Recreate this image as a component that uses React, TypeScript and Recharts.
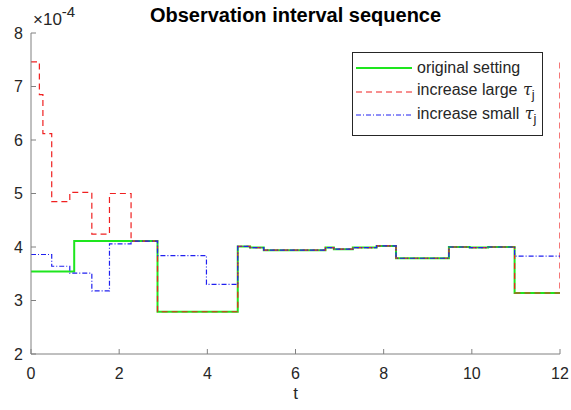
import React from 'react';
import { LineChart, Line, XAxis, YAxis } from 'recharts';

// Values in units of 1e-4 (axis shows ×10^-4)
const originalT = [0, 0.98, 2.87, 4.69, 4.97, 5.28, 6.68, 6.87, 7.3, 7.84, 8.28, 9.48, 9.95, 10.37, 10.97, 12];
const originalV = [3.54, 4.11, 2.79, 4.01, 3.99, 3.94, 3.99, 3.96, 3.99, 4.02, 3.79, 4.0, 3.99, 4.0, 3.14, 3.14];

const largeT = [0, 0.19, 0.27, 0.47, 0.88, 1.38, 1.78, 2.27, 2.87, 4.69, 4.97, 5.28, 6.68, 6.87, 7.3, 7.84, 8.28, 9.48, 9.95, 10.37, 10.97, 12];
const largeV = [7.46, 6.85, 6.12, 4.85, 5.02, 4.24, 5.0, 4.11, 2.79, 4.01, 3.99, 3.94, 3.99, 3.96, 3.99, 4.02, 3.79, 4.0, 3.99, 4.0, 3.14, 7.5];

const smallT = [0, 0.47, 0.88, 1.38, 1.78, 2.27, 2.87, 3.98, 4.69, 4.97, 5.28, 6.68, 6.87, 7.3, 7.84, 8.28, 9.48, 9.95, 10.37, 10.97, 12];
const smallV = [3.86, 3.64, 3.51, 3.18, 4.06, 4.11, 3.84, 3.3, 4.01, 3.99, 3.94, 3.99, 3.96, 3.99, 4.02, 3.79, 4.0, 3.99, 4.0, 3.83, 3.83];

const xTicks = [0, 2, 4, 6, 8, 10, 12];
const yTicks = [2, 3, 4, 5, 6, 7, 8];

const title = 'Observation interval sequence';
const xLabel = 't';

const toData = (ts: number[], vs: number[]) => ts.map((t, i) => ({ t, v: vs[i] }));

const series = [
  { name: 'original setting', tau: false, data: toData(originalT, originalV), color: '#1ee61e', width: 2, dash: undefined as string | undefined },
  { name: 'increase large ', tau: true, data: toData(largeT, largeV), color: '#f02020', width: 1.2, dash: '6 4' },
  { name: 'increase small ', tau: true, data: toData(smallT, smallV), color: '#2020f0', width: 1.2, dash: '5 2 1 2' },
];

const FONT = '"Liberation Sans", Arial, Helvetica, sans-serif';
const AXIS = '#808080';
const TXT = '#262626';

export default function App() {
  return (
    <div style={{ position: 'absolute', left: 0, top: 0, width: 571, height: 410, background: '#fff', fontFamily: FONT }}>
      <LineChart width={571} height={410} margin={{ top: 33, right: 11, left: 0, bottom: 0 }}>
        <XAxis
          xAxisId={0}
          dataKey="t"
          type="number"
          domain={[0, 12]}
          ticks={xTicks}
          allowDataOverflow
          height={56}
          stroke={AXIS}
          tickSize={-5}
          tickMargin={19}
          tick={{ fill: TXT, fontSize: 16, fontFamily: FONT }}
          label={{ value: xLabel, position: 'insideBottom', offset: 11, fill: TXT, fontSize: 17, fontFamily: FONT }}
        />
        <XAxis
          xAxisId="top"
          orientation="top"
          type="number"
          domain={[0, 12]}
          ticks={xTicks}
          allowDataOverflow
          height={0}
          stroke={AXIS}
          tickSize={-5}
          tick={false}
        />
        <YAxis
          yAxisId={0}
          type="number"
          domain={[2, 8]}
          ticks={yTicks}
          allowDataOverflow
          width={31}
          stroke={AXIS}
          tickSize={-5}
          tickMargin={13}
          tick={{ fill: TXT, fontSize: 16, fontFamily: FONT }}
        />
        <YAxis
          yAxisId="right"
          orientation="right"
          type="number"
          domain={[2, 8]}
          ticks={yTicks}
          allowDataOverflow
          width={0}
          stroke={AXIS}
          tickSize={-5}
          tick={false}
        />
        {series.map((s) => (
          <Line
            key={s.name}
            data={s.data}
            dataKey="v"
            type="stepAfter"
            stroke={s.color}
            strokeWidth={s.width}
            strokeDasharray={s.dash}
            dot={false}
            activeDot={false}
            isAnimationActive={false}
          />
        ))}
      </LineChart>

      <div style={{ position: 'absolute', left: 0, width: 591, top: 3, textAlign: 'center', fontWeight: 'bold', fontSize: 20, color: '#000', lineHeight: '24px' }}>
        {title}
      </div>

      <div style={{ position: 'absolute', left: 33, top: 10, fontSize: 17, color: TXT, lineHeight: '20px', whiteSpace: 'nowrap' }}>
        ×10<span style={{ fontSize: 15, position: 'relative', top: -8 }}>-4</span>
      </div>

      <div style={{ position: 'absolute', left: 352, top: 52, width: 191, height: 84, border: '1px solid #262626', background: '#fff', boxSizing: 'border-box' }}>
        {series.map((s, i) => (
          <div key={s.name} style={{ position: 'absolute', left: 3, top: 4 + i * 23.5, height: 22, display: 'flex', alignItems: 'center' }}>
            <svg width={56} height={10} style={{ display: 'block' }}>
              <line x1={0} y1={5} x2={56} y2={5} stroke={s.color} strokeWidth={s.width} strokeDasharray={s.dash} />
            </svg>
            <span style={{ marginLeft: 5, fontSize: 16, color: TXT, whiteSpace: 'nowrap' }}>
              {s.name}
              {s.tau && (
                <span style={{ fontStyle: 'italic', fontFamily: '"DejaVu Serif", serif', marginLeft: 1 }}>
                  τ<sub style={{ fontStyle: 'normal', fontFamily: FONT, fontSize: 13 }}>j</sub>
                </span>
              )}
            </span>
          </div>
        ))}
      </div>
    </div>
  );
}
